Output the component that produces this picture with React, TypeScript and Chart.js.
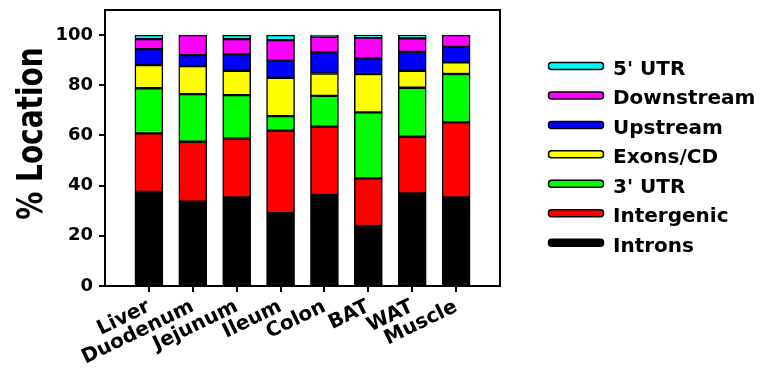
import React, { useEffect, useRef } from 'react';
import { Chart, registerables } from 'chart.js';

Chart.register(...registerables);

const categories = ['Liver', 'Duodenum', 'Jejunum', 'Ileum', 'Colon', 'BAT', 'WAT', 'Muscle'];
const introns = [37.5, 33.6, 35.3, 29.0, 36.3, 23.9, 36.9, 35.3];
const intergenic = [23.3, 23.9, 23.5, 32.9, 27.2, 19.0, 22.6, 29.9];
const utr3 = [18.0, 19.0, 17.3, 5.8, 12.3, 26.3, 19.5, 19.3];
const exons = [9.2, 11.1, 9.7, 15.3, 8.9, 15.3, 6.8, 4.6];
const upstream = [6.4, 4.4, 6.6, 6.8, 8.4, 6.2, 7.5, 6.2];
const downstream = [4.0, 8.0, 6.0, 8.2, 6.2, 8.3, 5.4, 4.7];
const utr5 = [1.6, 0, 1.6, 2.0, 0.7, 1.0, 1.3, 0];
const yTicks = [0, 20, 40, 60, 80, 100];

const seriesNames = ['Introns', 'Intergenic', "3' UTR", 'Exons/CD', 'Upstream', 'Downstream', "5' UTR"];
const seriesColors = ['#000000', '#ff0000', '#00ff00', '#ffff00', '#0000ff', '#ff00ff', '#00ffff'];
const seriesValues = [introns, intergenic, utr3, exons, upstream, downstream, utr5];

const FONT = '"DejaVu Sans", sans-serif';

const framePlugin = {
  id: 'frameAndLegend',
  afterDraw(chart: any) {
    const ctx = chart.ctx;
    const { left, right, top, bottom } = chart.chartArea;
    ctx.save();
    ctx.strokeStyle = '#000';
    ctx.lineWidth = 2;
    ctx.beginPath();
    ctx.moveTo(left - 1, top);
    ctx.lineTo(right, top);
    ctx.lineTo(right, bottom + 1);
    ctx.stroke();

    // y-axis title
    ctx.save();
    ctx.translate(41.5, 133.5);
    ctx.rotate(-Math.PI / 2);
    ctx.scale(1, 1.25);
    ctx.font = `bold 28px ${FONT}`;
    ctx.fillStyle = '#000';
    ctx.textAlign = 'center';
    ctx.textBaseline = 'alphabetic';
    ctx.fillText('% Location', 0, 0);
    ctx.restore();

    // legend (reverse order: top item is last series)
    const n = seriesNames.length;
    for (let k = 0; k < n; k++) {
      const idx = n - 1 - k;
      const cy = 66 + k * 29.45;
      ctx.beginPath();
      ctx.roundRect(548.5, cy - 3.5, 55, 7, 3);
      ctx.fillStyle = seriesColors[idx];
      ctx.fill();
      ctx.lineWidth = 1.5;
      ctx.strokeStyle = '#000';
      ctx.stroke();
      ctx.font = `bold 20px ${FONT}`;
      ctx.fillStyle = '#000';
      ctx.textAlign = 'left';
      ctx.textBaseline = 'alphabetic';
      ctx.fillText(seriesNames[idx], 613, cy + 9);
    }
    ctx.restore();
  },
};

export default function App() {
  const ref = useRef<HTMLCanvasElement>(null);
  useEffect(() => {
    if (!ref.current) return;
    const labels = ['', ...categories, ''];
    const chart = new Chart(ref.current, {
      type: 'bar',
      data: {
        labels,
        datasets: seriesNames.map((name, i) => ({
          label: name,
          data: [null, ...seriesValues[i], null],
          backgroundColor: seriesColors[i],
          borderColor: '#000',
          borderWidth: 1.5,
          borderSkipped: false,
          barThickness: 28,
        })),
      },
      options: {
        animation: false,
        responsive: true,
        maintainAspectRatio: false,
        layout: { padding: { top: 10, right: 261, left: 0, bottom: 0 } },
        plugins: { legend: { display: false }, tooltip: { enabled: false } },
        scales: {
          x: {
            stacked: true,
            offset: false,
            grid: { offset: false, drawOnChartArea: false, drawTicks: true, tickLength: 6, color: '#000', lineWidth: 2 },
            border: { display: true, color: '#000', width: 2 },
            ticks: {
              autoSkip: false,
              minRotation: 26,
              maxRotation: 26,
              padding: 3,
              color: '#000',
              font: { family: FONT, size: 20, weight: 'bold' },
            },
            afterBuildTicks: (s: any) => {
              s.ticks = s.ticks.filter((t: any) => t.value >= 1 && t.value <= categories.length);
            },
            afterFit: (s: any) => {
              s.height = 86;
              s.paddingLeft = 0;
              s.paddingRight = 0;
            },
          },
          y: {
            stacked: true,
            min: 0,
            max: 110,
            grid: { drawOnChartArea: false, drawTicks: true, tickLength: 6, color: '#000', lineWidth: 2 },
            border: { display: true, color: '#000', width: 2 },
            ticks: {
              includeBounds: false,
              padding: 6,
              color: '#000',
              font: { family: FONT, size: 18, weight: 'bold' },
            },
            afterBuildTicks: (s: any) => {
              s.ticks = yTicks.map((v) => ({ value: v }));
            },
            afterFit: (s: any) => {
              s.width = 105;
              s.paddingTop = 0;
              s.paddingBottom = 0;
            },
          },
        },
      },
      plugins: [framePlugin],
    } as any);
    return () => chart.destroy();
  }, []);
  return (
    <div style={{ position: 'absolute', left: 0, top: 0, width: 761, height: 372 }}>
      <canvas ref={ref} />
    </div>
  );
}
